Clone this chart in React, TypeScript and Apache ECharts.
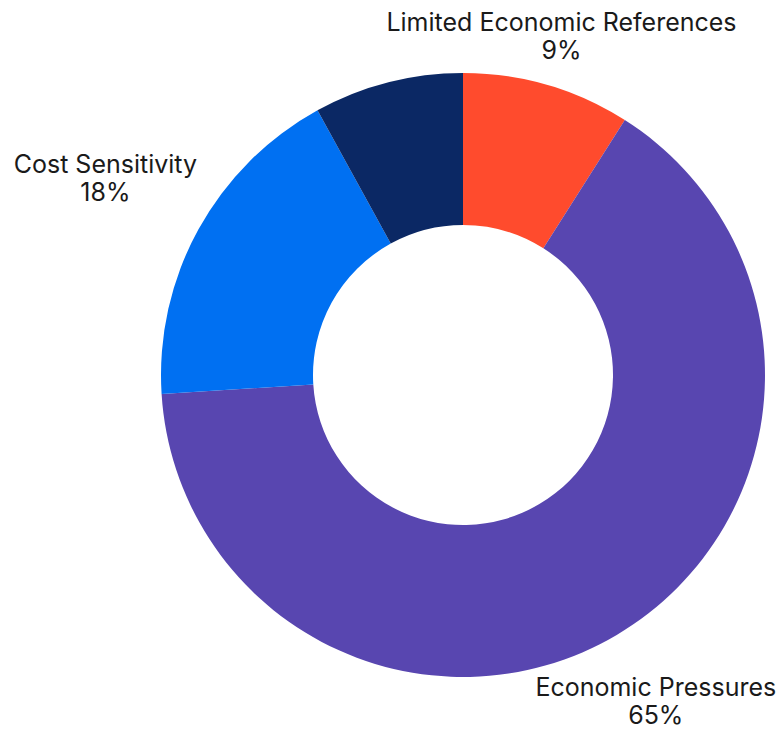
import React, { useEffect, useRef } from "react";
import * as echarts from "echarts";

const categories = ["Limited Economic References", "Economic Pressures", "Cost Sensitivity", "Other"];
const values = [9, 65, 18, 8];
const colors = ["#FF4B2D", "#5846B0", "#0070F2", "#0B2864"];
const showLabel = [true, true, true, false];

const CX = 463;
const CY = 375;
const LABEL_R = 350;
const TOP = 8;
const BOTTOM = 729;

export default function App() {
  const ref = useRef<HTMLDivElement>(null);
  useEffect(() => {
    if (!ref.current) return;
    const chart = echarts.init(ref.current, undefined, { renderer: "svg" });
    const total = values.reduce((a, b) => a + b, 0);
    const mids: number[] = [];
    let acc = 0;
    values.forEach((v) => {
      mids.push(((acc + v / 2) / total) * Math.PI * 2);
      acc += v;
    });
    chart.setOption({
      animation: false,
      series: [
        {
          type: "pie",
          center: [CX, CY],
          radius: [150, 302],
          startAngle: 90,
          clockwise: true,
          avoidLabelOverlap: false,
          labelLine: { show: false },
          label: {
            show: true,
            position: "outside",
            formatter: (p: any) => `${p.name}\n${p.value}%`,
            fontFamily: "Inter, 'Noto Sans', sans-serif",
            fontSize: 25,
            lineHeight: 28,
            color: "#1a1a1a",
            align: "center",
          },
          labelLayout: (params: any) => {
            const i = params.dataIndex;
            const m = mids[i];
            const s = Math.sin(m);
            const c = Math.cos(m);
            const w = params.labelRect.width / 2;
            const h = params.labelRect.height / 2;
            const dw = Math.abs(s) > 1e-6 ? w / Math.abs(s) : Infinity;
            const dh = Math.abs(c) > 1e-6 ? h / Math.abs(c) : Infinity;
            let r = LABEL_R + Math.min(dw, dh);
            let y = CY - r * c;
            if (y - h < TOP && c > 0) {
              r = (CY - TOP - h) / c;
              y = CY - r * c;
            }
            if (y + h > BOTTOM && c < 0) {
              r = (BOTTOM - h - CY) / -c;
              y = CY - r * c;
            }
            const x = CX + r * s;
            return { x, y, align: "center", verticalAlign: "middle" };
          },
          emphasis: { disabled: true },
          data: categories.map((name, i) => ({
            name,
            value: values[i],
            itemStyle: { color: colors[i] },
            label: { show: showLabel[i] },
          })),
        },
      ],
    });
    return () => chart.dispose();
  }, []);
  return (
    <div
      ref={ref}
      style={{ position: "absolute", left: 0, top: 0, width: 783, height: 731 }}
    />
  );
}
